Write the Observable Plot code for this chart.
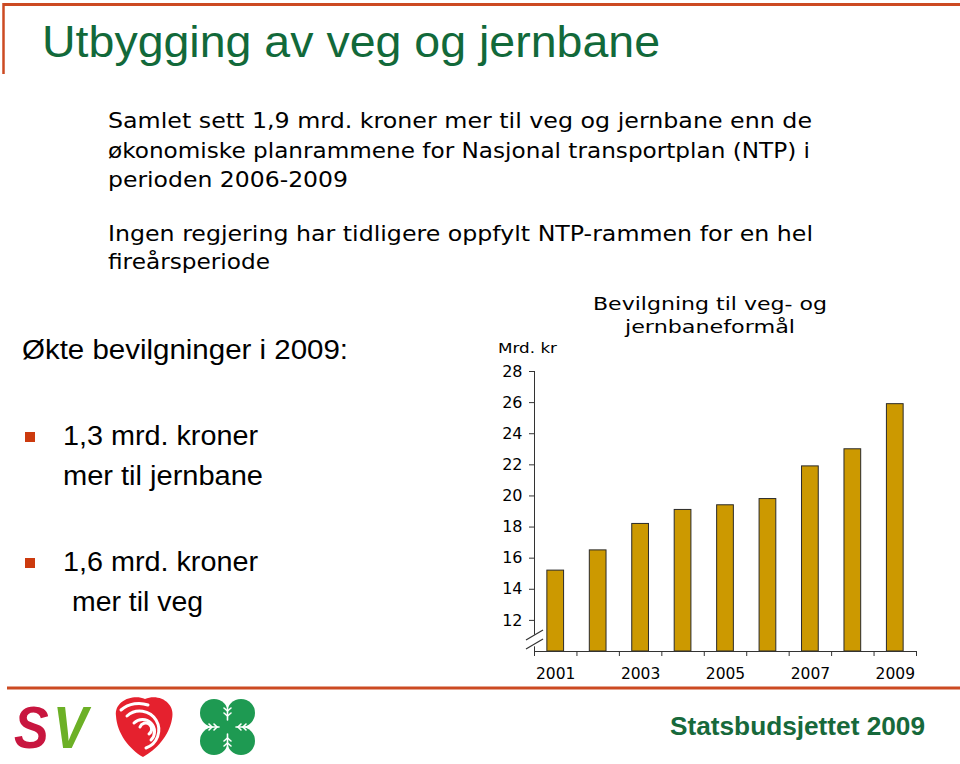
<!DOCTYPE html>
<html>
<head>
<meta charset="utf-8">
<script src="https://cdn.jsdelivr.net/npm/d3@7"></script>
<script src="https://cdn.jsdelivr.net/npm/@observablehq/plot@0.6"></script>
<style>
  html, body { margin: 0; padding: 0; background: #ffffff; }
  #page { position: relative; width: 960px; height: 764px; overflow: hidden; background: #ffffff; }
  #deco { position: absolute; left: 0; top: 0; }
  #chart { position: absolute; left: 480px; top: 360px; }
</style>
</head>
<body>
<div id="page">
  <svg id="deco" width="960" height="764" xmlns="http://www.w3.org/2000/svg">
    <!-- frame lines -->
    <line x1="3" y1="4.5" x2="960" y2="4.5" stroke="#cc4a22" stroke-width="3"/>
    <line x1="3.5" y1="3" x2="3.5" y2="74" stroke="#cc4a22" stroke-width="2.5"/>
    <line x1="7" y1="688" x2="960" y2="688" stroke="#cc4a22" stroke-width="3"/>

    <!-- main title -->
    <text x="42" y="57" font-family="Liberation Sans, Arial, sans-serif" font-size="45" fill="#12693a" textLength="618" lengthAdjust="spacingAndGlyphs">Utbygging av veg og jernbane</text>

    <!-- body text -->
    <g font-family="DejaVu Sans, Verdana, sans-serif" font-size="21.5" fill="#000">
      <text x="108" y="128" textLength="704" lengthAdjust="spacingAndGlyphs">Samlet sett 1,9 mrd. kroner mer til veg og jernbane enn de</text>
      <text x="108" y="158" textLength="702" lengthAdjust="spacingAndGlyphs">økonomiske planrammene for Nasjonal transportplan (NTP) i</text>
      <text x="108" y="186.5" textLength="240" lengthAdjust="spacingAndGlyphs">perioden 2006-2009</text>
      <text x="108" y="241" textLength="705" lengthAdjust="spacingAndGlyphs">Ingen regjering har tidligere oppfylt NTP-rammen for en hel</text>
      <text x="108" y="269" textLength="162" lengthAdjust="spacingAndGlyphs">fireårsperiode</text>
    </g>

    <!-- left column -->
    <g font-family="Liberation Sans, Arial, sans-serif" font-size="27" fill="#000">
      <text x="22" y="359" textLength="326" lengthAdjust="spacingAndGlyphs">Økte bevilgninger i 2009:</text>
      <text x="63" y="445" textLength="195" lengthAdjust="spacingAndGlyphs">1,3 mrd. kroner</text>
      <text x="63" y="485" textLength="200" lengthAdjust="spacingAndGlyphs">mer til jernbane</text>
      <text x="63" y="571" textLength="195" lengthAdjust="spacingAndGlyphs">1,6 mrd. kroner</text>
      <text x="72" y="611" textLength="131" lengthAdjust="spacingAndGlyphs">mer til veg</text>
    </g>
    <rect x="25" y="432" width="10" height="10" fill="#cc3a0e"/>
    <rect x="25" y="558" width="10" height="10" fill="#cc3a0e"/>

    <!-- chart title and unit -->
    <g font-family="DejaVu Sans, Verdana, sans-serif" fill="#000">
      <text x="593" y="310" font-size="18" textLength="234" lengthAdjust="spacingAndGlyphs">Bevilgning til veg- og</text>
      <text x="625" y="333" font-size="18" textLength="170" lengthAdjust="spacingAndGlyphs">jernbaneformål</text>
      <text x="498" y="352.5" font-size="13.5" textLength="59" lengthAdjust="spacingAndGlyphs">Mrd. kr</text>
    </g>

    <!-- footer -->
    <text x="670" y="735" font-family="Liberation Sans, Arial, sans-serif" font-weight="bold" font-size="25" fill="#17693b" textLength="255" lengthAdjust="spacingAndGlyphs">Statsbudsjettet 2009</text>

    <!-- SV logo -->
    <text transform="translate(14,748) scale(1,1.15)" font-family="Liberation Sans, Arial, sans-serif" font-weight="bold" font-style="italic" font-size="52" fill="#c8163f">S</text>
    <text transform="translate(53,748) scale(1,1.15)" font-family="Liberation Sans, Arial, sans-serif" font-weight="bold" font-style="italic" font-size="52" fill="#6cb026">V</text>

    <!-- rose logo -->
    <path d="M116,716 C114,700 134,694 145,699 C158,693 176,702 172,719 C169,736 156,750 143,757 C129,749 117,733 116,716 Z" fill="#e5212e"/>
    <g fill="none" stroke="#ffffff" stroke-width="3" stroke-linecap="round">
      <path d="M127,716 A19,19 0 1 1 146,748"/>
      <path d="M134,723 A12,12 0 1 1 151,740"/>
      <path d="M140,727 A6,6 0 1 1 149,734"/>
      <path d="M121,710 C129,703 140,702 148,705"/>
    </g>

    <!-- clover logo -->
    <g fill="#1e9a52">
      <circle cx="214" cy="713" r="14"/>
      <circle cx="241" cy="713" r="14"/>
      <circle cx="214" cy="741" r="14"/>
      <circle cx="241" cy="741" r="14"/>
      <rect x="212" y="711" width="31" height="32"/>
    </g>
    <g stroke="#ffffff" stroke-width="1.6" fill="none" stroke-linecap="round">
      <line x1="227.5" y1="700" x2="227.5" y2="720"/>
      <line x1="227.5" y1="734" x2="227.5" y2="754"/>
      <line x1="203" y1="727" x2="219" y2="727"/>
      <line x1="236" y1="727" x2="252" y2="727"/>
      <path d="M224,708 L227.5,711 L231,708 M224,713 L227.5,716 L231,713"/>
      <path d="M224,746 L227.5,743 L231,746 M224,741 L227.5,738 L231,741"/>
      <path d="M209,724 L212,727 L209,730 M214,724 L217,727 L214,730"/>
      <path d="M246,724 L243,727 L246,730 M241,724 L238,727 L241,730"/>
    </g>
  </svg>
  <div id="chart"></div>
</div>
<script>
// ---- data ----
const years = [2001, 2002, 2003, 2004, 2005, 2006, 2007, 2008, 2009];
const values = [15.2, 16.5, 18.2, 19.1, 19.4, 19.8, 21.9, 23.0, 25.9];
const yTicks = [12, 14, 16, 18, 20, 22, 24, 26, 28];
const xLabelYears = [2001, 2003, 2005, 2007, 2009];
const yBase = 10;
const axisBreak = [10.45, 11.03];

const data = years.map((year, i) => ({year, value: values[i]}));
const xMin = years[0] - 0.5;
const xMax = years[years.length - 1] + 0.5;
const xEdges = years.map(y => y - 0.5).concat([xMax]);
const halfBar = 0.197;

const breakMark = (index, scales) => {
  const g = d3.create("svg:g").attr("stroke", "#333").attr("stroke-width", 1.2);
  const x0 = scales.x(xMin);
  for (const v of axisBreak) {
    const y0 = scales.y(v);
    g.append("line")
      .attr("x1", x0 - 8).attr("y1", y0 + 5)
      .attr("x2", x0 + 9).attr("y2", y0 - 5);
  }
  return g.node();
};

const chart = Plot.plot({
  width: 470,
  height: 335,
  marginLeft: 54,
  marginRight: 34,
  marginTop: 11,
  marginBottom: 44,
  style: {fontFamily: "DejaVu Sans, Verdana, sans-serif", fontSize: "16px", color: "#000", background: "transparent"},
  x: {domain: [xMin, xMax], axis: null},
  y: {domain: [yBase, yTicks[yTicks.length - 1]], axis: null},
  marks: [
    Plot.rect(data, {
      x1: d => d.year - halfBar,
      x2: d => d.year + halfBar,
      y1: () => yBase,
      y2: "value",
      fill: "#cc9900",
      stroke: "#2a2a2a",
      strokeWidth: 1
    }),
    Plot.ruleY([yBase], {x1: xMin, x2: xMax, stroke: "#333"}),
    Plot.ruleX([xMin], {y1: yBase, y2: 10.3, stroke: "#333"}),
    Plot.ruleX([xMin], {y1: 11.05, y2: yTicks[yTicks.length - 1], stroke: "#333"}),
    Plot.axisY({ticks: yTicks, tickSize: 5, tickPadding: 7, tickFormat: d => String(d), stroke: "#333", fontSize: 16, label: null}),
    Plot.axisX({ticks: xEdges, tickSize: 5, tickFormat: () => "", stroke: "#333", label: null}),
    Plot.axisX({ticks: xLabelYears, tickSize: 0, tickPadding: 16, tickFormat: d => String(d), fontSize: 15.5, label: null}),
    breakMark
  ]
});
document.getElementById("chart").appendChild(chart);
</script>
</body>
</html>
